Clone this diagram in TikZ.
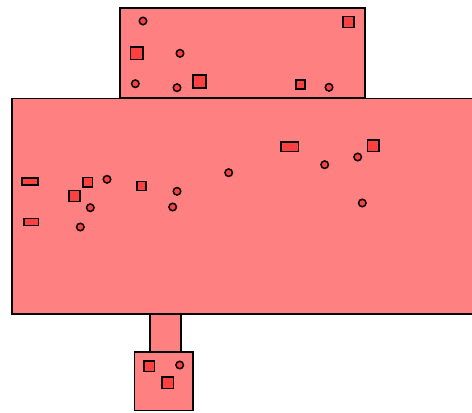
\documentclass[tikz,border=0pt]{standalone}
\begin{document}
\begin{tikzpicture}[x=1pt,y=-1pt,
  room/.style={draw=black,line width=1.5pt,fill=roomred},
  sq/.style={draw=black,line width=1.5pt,fill=itemred,minimum width=#1,minimum height=#1,inner sep=0pt,outer sep=0pt},
  bar/.style={draw=black,line width=1.5pt,fill=itemred,minimum width=16pt,minimum height=7pt,inner sep=0pt,outer sep=0pt},
  dot/.style={draw=black,line width=1.5pt,fill=itemred,circle,minimum size=7.5pt,inner sep=0pt,outer sep=0pt}]
\definecolor{roomred}{HTML}{FF8080}
\definecolor{itemred}{HTML}{FF4040}
\useasboundingbox (0,0) rectangle (472,413);
\clip (0,0) rectangle (472,413);
% rooms
\draw[room] (120,8) rectangle (365,98);
\draw[room] (12,98.5) rectangle (480,314);
\draw[room] (150,314) rectangle (181,352);
\draw[room] (134.5,352) rectangle (193,410.5);
% top room items
\node[dot] (t1) at (143,21) {};
\node[sq=11pt] (t2) at (348.3,22) {};
\node[sq=12.5pt] (t3) at (136.7,53.3) {};
\node[dot] (t4) at (180,53.3) {};
\node[dot] (t5) at (135.3,83.7) {};
\node[dot] (t6) at (177,87.7) {};
\node[sq=13pt] (t7) at (199.3,81.7) {};
\node[sq=9pt] (t8) at (300.7,84.3) {};
\node[dot] (t9) at (329,87.3) {};
% main room items
\node[bar] (m1) at (30,181.7) {};
\node[bar,minimum width=14.5pt] (m2) at (31,222) {};
\node[sq=9.5pt] (m3) at (87.7,182.3) {};
\node[sq=11pt] (m4) at (74.7,196) {};
\node[dot] (m5) at (107,179.3) {};
\node[dot] (m6) at (90.3,207.7) {};
\node[dot] (m7) at (80.3,227) {};
\node[sq=9pt] (m8) at (141.3,186) {};
\node[dot] (m9) at (177,191.3) {};
\node[dot] (m10) at (172.7,207) {};
\node[dot] (m11) at (228.7,172.7) {};
\node[bar,minimum width=17.5pt,minimum height=9.5pt] (m12) at (289.7,146.7) {};
\node[sq=11.5pt] (m13) at (373,145.7) {};
\node[dot] (m14) at (324.7,164.7) {};
\node[dot] (m15) at (357.7,157) {};
\node[dot] (m16) at (362.3,203) {};
% bottom room items
\node[sq=10.5pt] (b1) at (149.3,366.3) {};
\node[sq=11.5pt] (b2) at (167.7,382.7) {};
\node[dot] (b3) at (179.7,365) {};
\end{tikzpicture}
\end{document}
